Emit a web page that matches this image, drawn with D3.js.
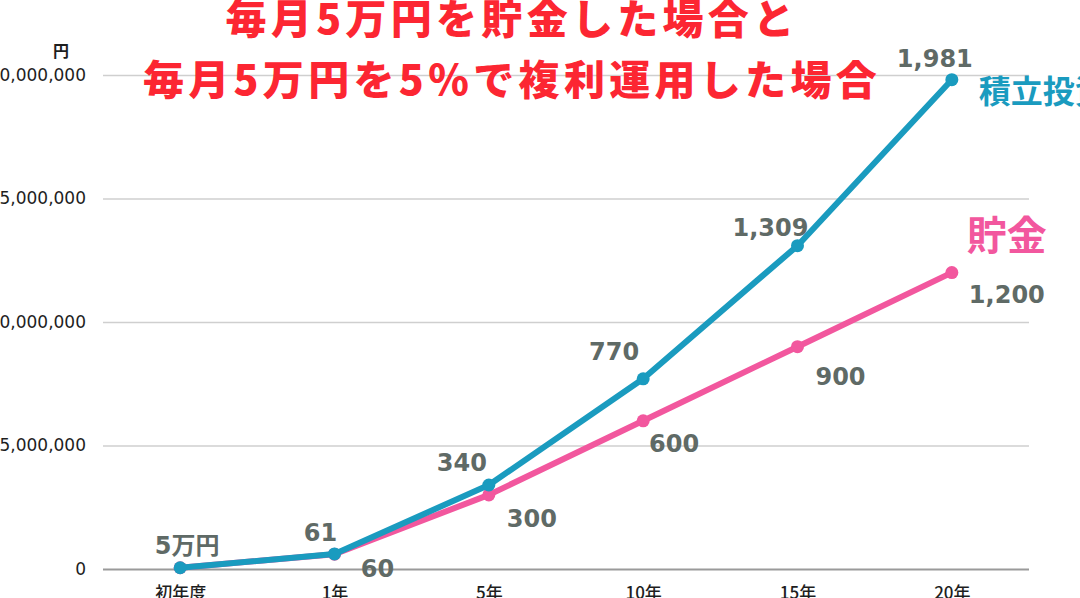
<!DOCTYPE html>
<html>
<head>
<meta charset="utf-8">
<script src="https://cdn.jsdelivr.net/npm/d3@7"></script>
<style>
  html, body { margin: 0; padding: 0; background: #fff; overflow: hidden; }
  svg { display: block; }
</style>
</head>
<body>
<div id="chart" style="width:1080px;height:598px"></div>
<script>
// categories / values (yen)
const categories = ["初年度", "1年", "5年", "10年", "15年", "20年"]
const investValues = [50000, 610000, 3400000, 7700000, 13090000, 19810000]
const savingValues = [50000, 600000, 3000000, 6000000, 9000000, 12000000]
const investLabels = ["5万円", "61", "340", "770", "1,309", "1,981"]
const savingLabels = [null, "60", "300", "600", "900", "1,200"]
const yTicks = [0, 5000000, 10000000, 15000000, 20000000]
const titleLines = ["毎月5万円を貯金した場合と", "毎月5万円を5％で複利運用した場合"]

const blue = "#1a9bbf"
const pink = "#f2579e"
const labelGray = "#5f6a66"

const width = 1080, height = 598
const svg = d3.select("#chart").append("svg")
    .attr("width", width)
    .attr("height", height)

const xScale = d3.scalePoint().domain(categories).range([103, 1029]).padding(0.5)
const yScale = d3.scaleLinear().domain([0, 20000000]).range([569, 75])

// grid + y axis
const yAxis = d3.axisLeft(yScale)
    .tickValues(yTicks)
    .tickSize(-(1029 - 103))
    .tickPadding(17)
    .tickFormat(d3.format(","))
const gy = svg.append("g")
    .attr("transform", "translate(103,0)")
    .call(yAxis)
gy.select(".domain").remove()
gy.selectAll(".tick line")
    .attr("stroke", d => d === 0 ? "#9a9a9a" : "#cfcfcf")
    .attr("stroke-width", d => d === 0 ? 2 : 1.5)
gy.selectAll(".tick text")
    .attr("fill", "#1e1e1e")
    .style("font-family", "'DejaVu Sans', sans-serif")
    .style("font-size", "17px")

svg.append("text")
    .attr("x", 61).attr("y", 57)
    .attr("text-anchor", "middle")
    .style("font-family", "'Noto Sans CJK JP', sans-serif")
    .style("font-size", "16px")
    .style("font-weight", "700")
    .attr("fill", "#1e1e1e")
    .text("円")

// x axis
const xAxis = d3.axisBottom(xScale).tickSize(0).tickPadding(0)
const gx = svg.append("g")
    .attr("transform", "translate(0,569)")
    .call(xAxis)
gx.select(".domain").remove()
gx.selectAll(".tick text")
    .attr("y", 30).attr("dy", 0)
    .attr("fill", "#1e1e1e")
    .style("font-family", "'Noto Sans CJK JP', sans-serif")
    .style("font-size", "17px")
    .style("font-weight", "500")

// title
svg.selectAll("text.title")
    .data(titleLines)
    .join("text")
    .attr("class", "title")
    .attr("x", 512)
    .attr("y", (d, i) => 34 + i * 61)
    .attr("text-anchor", "middle")
    .attr("fill", "#fc2632")
    .style("font-family", "'Noto Sans CJK JP', sans-serif")
    .style("font-size", "41px")
    .style("font-weight", "900")
    .style("letter-spacing", "4.3px")
    .text(d => d)

// lines
const line = d3.line()
    .x((d, i) => xScale(categories[i]))
    .y(d => yScale(d))

const series = [
    { name: "saving", values: savingValues, color: pink },
    { name: "invest", values: investValues, color: blue }
]
series.forEach(s => {
    svg.append("path")
        .datum(s.values)
        .attr("fill", "none")
        .attr("stroke", s.color)
        .attr("stroke-width", 6)
        .attr("stroke-linejoin", "round")
        .attr("d", line)
    svg.selectAll("circle.c-" + s.name)
        .data(s.values)
        .join("circle")
        .attr("class", "c-" + s.name)
        .attr("cx", (d, i) => xScale(categories[i]))
        .attr("cy", d => yScale(d))
        .attr("r", 6.5)
        .attr("fill", s.color)
})

// value labels
const labelFont = s => s
    .attr("fill", labelGray)
    .attr("text-anchor", "middle")
    .style("font-family", "'DejaVu Sans', 'Noto Sans CJK JP', sans-serif")
    .style("font-size", "24px")
    .style("font-weight", "700")

// nudges (dx, dy of baseline) per label
const investNudge = [[7, -14], [-14, -13], [-27, -14], [-29, -19], [-27, -10], [-17, -13]]
const savingNudge = [[0, 0], [43, 23], [43, 32], [31, 31], [43, 38], [55, 30]]

svg.selectAll("text.lab-invest")
    .data(investLabels)
    .join("text")
    .attr("class", "lab-invest")
    .attr("x", (d, i) => xScale(categories[i]) + investNudge[i][0])
    .attr("y", (d, i) => yScale(investValues[i]) + investNudge[i][1])
    .call(labelFont)
    .text(d => d)

svg.selectAll("text.lab-saving")
    .data(savingLabels.filter(d => d !== null))
    .join("text")
    .attr("class", "lab-saving")
    .attr("x", (d, i) => xScale(categories[i + 1]) + savingNudge[i + 1][0])
    .attr("y", (d, i) => yScale(savingValues[i + 1]) + savingNudge[i + 1][1])
    .call(labelFont)
    .text(d => d)

// series names
svg.append("text")
    .attr("x", xScale("20年") + 27)
    .attr("y", yScale(investValues[5]) + 23)
    .attr("fill", blue)
    .style("font-family", "'Noto Sans CJK JP', sans-serif")
    .style("font-size", "32px")
    .style("font-weight", "700")
    .text("積立投資")

svg.append("text")
    .attr("x", xScale("20年") + 15)
    .attr("y", yScale(savingValues[5]) - 23)
    .attr("fill", pink)
    .style("font-family", "'Noto Sans CJK JP', sans-serif")
    .style("font-size", "40px")
    .style("font-weight", "700")
    .text("貯金")
</script>
</body>
</html>
